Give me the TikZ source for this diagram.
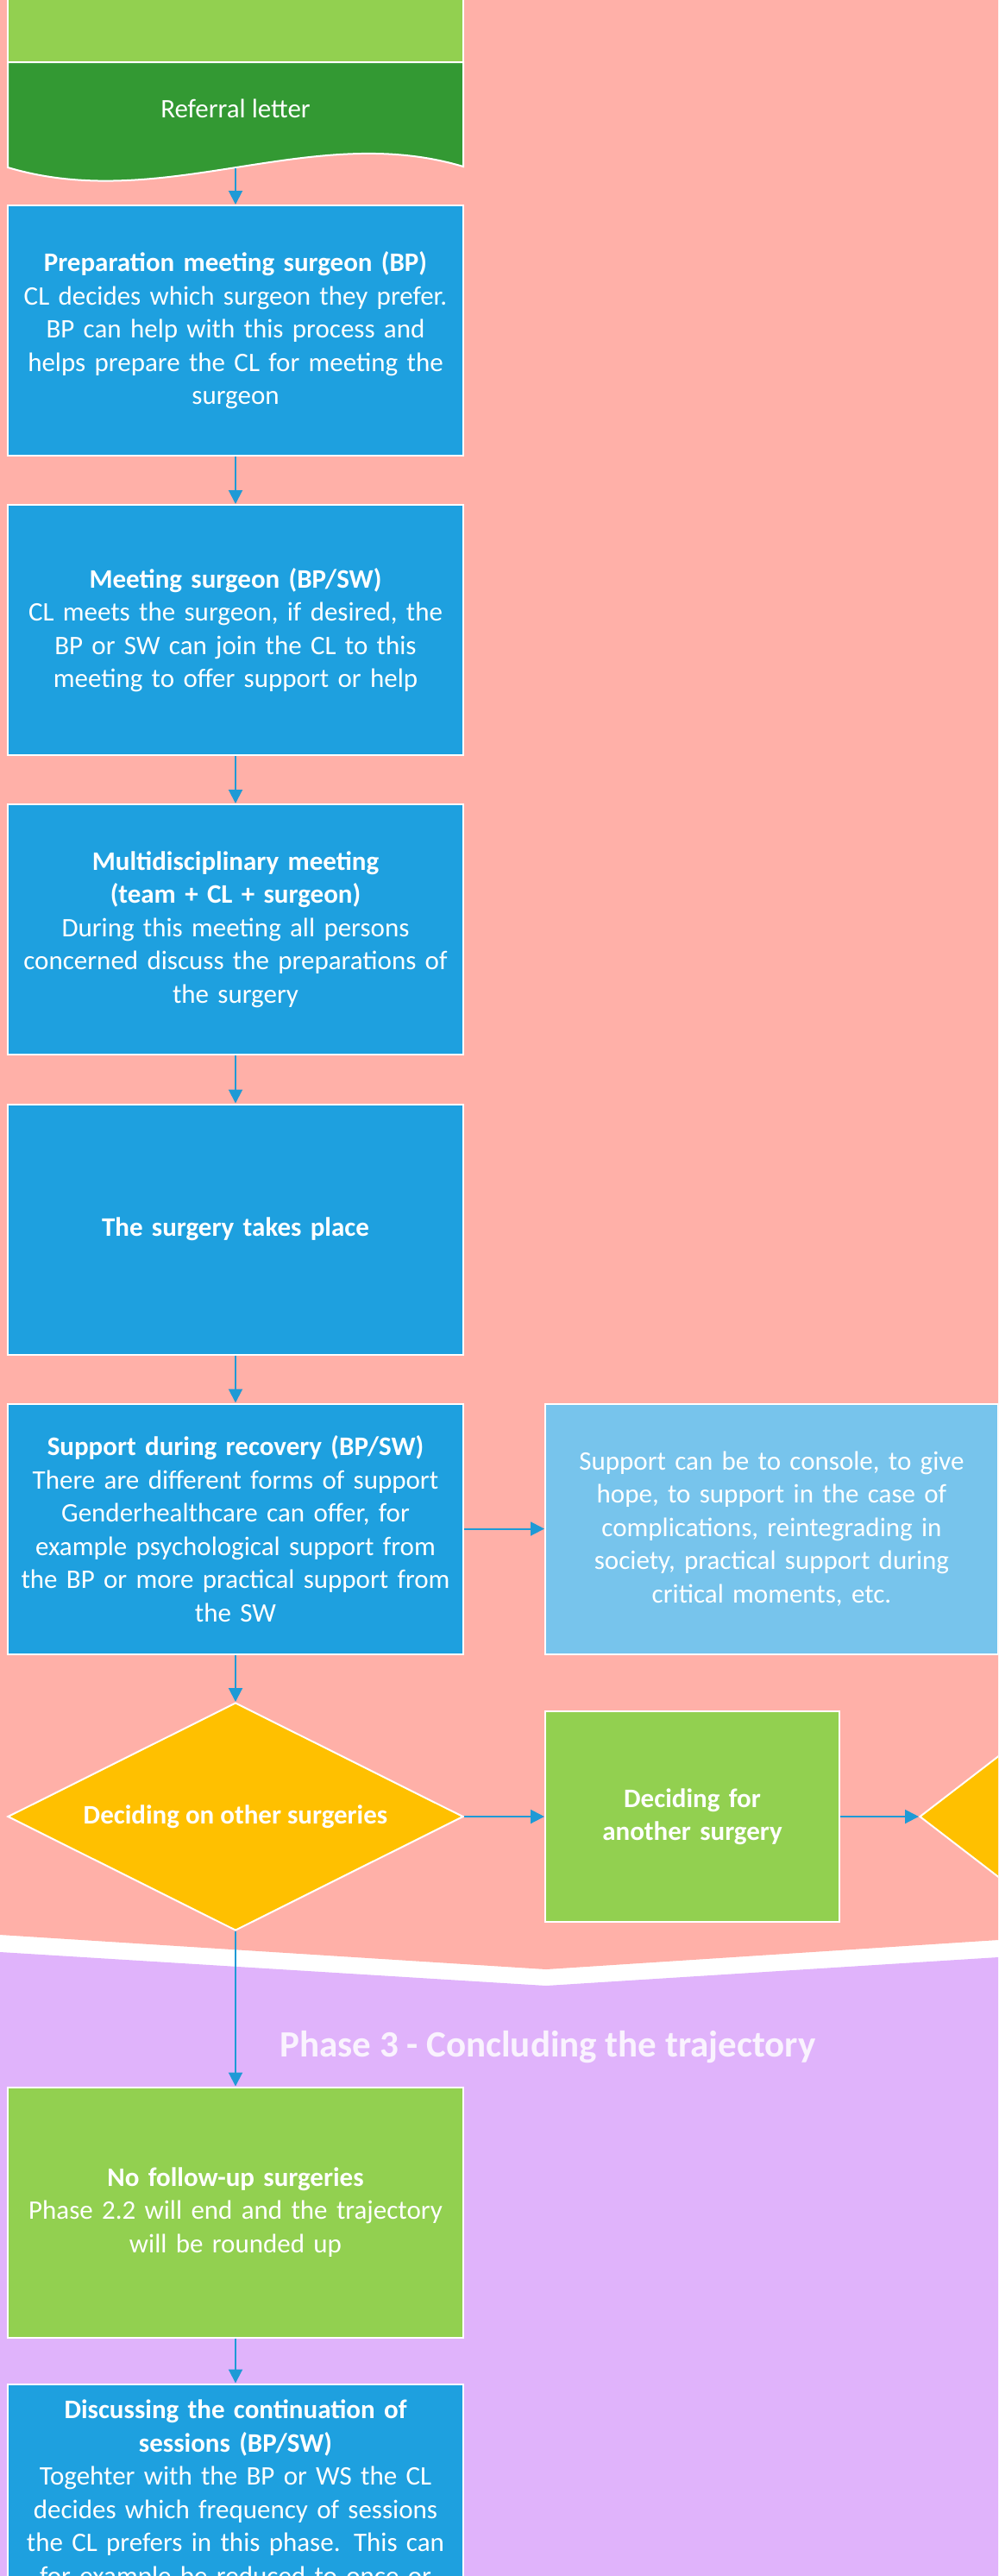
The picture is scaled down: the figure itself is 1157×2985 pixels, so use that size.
\documentclass[tikz,border=0pt]{standalone}
\usepackage{fontspec}
\setmainfont{Carlito}
\usepackage{tikz}
\usetikzlibrary{arrows.meta, shapes.geometric}
\definecolor{salmon}{HTML}{FFB0A8}
\definecolor{lilac}{HTML}{E0B3FB}
\definecolor{stepblue}{HTML}{1EA0DF}
\definecolor{paleblue}{HTML}{77C4EC}
\definecolor{leaf}{HTML}{92D050}
\definecolor{forest}{HTML}{339933}
\definecolor{amber}{HTML}{FFC000}
\definecolor{arrowblue}{HTML}{1E9AD6}
\definecolor{titletint}{HTML}{FAF3FE}

\begin{document}
\begin{tikzpicture}[x=1pt, y=-1pt,
    card/.style={rectangle, draw=white, line width=2pt, text=white, align=center,
        minimum width=528pt, minimum height=290pt, text width=516pt, inner xsep=6pt,
        font=\fontsize{31}{38.5}\selectfont},
    choice/.style={diamond, shape aspect=2, draw=white, line width=2pt, fill=amber,
        text=white, inner sep=0pt, minimum width=528pt, minimum height=264pt,
        font=\fontsize{31}{38.5}\selectfont\bfseries},
    flow/.style={draw=arrowblue, line width=2pt, -{Triangle[length=16pt, width=16pt]}}]
    \clip (0,0) rectangle (1157,2985);
    \fill[white] (0,0) rectangle (1157,2985);
    \fill[salmon] (0,0) -- (1157,0) -- (1157,2248) -- (633,2282) -- (0,2242) -- cycle;
    \fill[lilac] (0,2262) -- (633,2301) -- (1157,2268) -- (1157,2985) -- (0,2985) -- cycle;

    \node[card, fill=leaf, minimum height=120pt] (intake) at (273,12) {};
    \draw[draw=white, line width=2pt, fill=forest]
        (9,72) -- (537,72) -- (537,193) .. controls (360,140) and (190,248) .. (9,194) -- cycle;
    \node[text=white, font=\fontsize{31}{38.5}\selectfont] (letter) at (273,126) {Referral letter};
    \coordinate (letterfoot) at (273,194.5);

    \node[card, fill=stepblue] (prep) at (273,383)
        {\textbf{Preparation meeting surgeon (BP)}\\CL decides which surgeon they prefer.\\BP can help with this process and\\helps prepare the CL for meeting the\\surgeon};
    \node[card, fill=stepblue] (meet) at (273,730)
        {\textbf{Meeting surgeon (BP/SW)}\\CL meets the surgeon, if desired, the\\BP or SW can join the CL to this\\meeting to offer support or help};
    \node[card, fill=stepblue] (mdm) at (273,1077)
        {\textbf{Multidisciplinary meeting}\\\textbf{(team + CL + surgeon)}\\During this meeting all persons\\concerned discuss the preparations of\\the surgery};
    \node[card, fill=stepblue] (surgery) at (273,1424.5) {\textbf{The surgery takes place}};
    \node[card, fill=stepblue] (recovery) at (273,1771.5)
        {\textbf{Support during recovery (BP/SW)}\\There are different forms of support\\Genderhealthcare can offer, for\\example psychological support from\\the BP or more practical support from\\the SW};
    \node[card, fill=paleblue, minimum width=525pt, text width=513pt] (forms) at (894.5,1771.5)
        {Support can be to console, to give\\hope, to support in the case of\\complications, reintegrading in\\society, practical support during\\critical moments, etc.};
    \node[choice] (other) at (273,2105) {Deciding on other surgeries};
    \node[card, fill=leaf, minimum width=341pt, minimum height=244pt, text width=329pt] (another) at (802.5,2105)
        {\textbf{Deciding for}\\\textbf{another surgery}};
    \node[choice, minimum width=520pt, minimum height=400pt] (next) at (1326,2105) {};

    \node[anchor=base, text=titletint, font=\fontsize{43}{50}\selectfont\bfseries] (phase) at (635,2383)
        {Phase 3 - Concluding the trajectory};
    \node[card, fill=leaf] (nofollow) at (273,2563.5)
        {\textbf{No follow-up surgeries}\\Phase 2.2 will end and the trajectory\\will be rounded up};
    \node[card, fill=stepblue] (continue) at (273,2907.5)
        {\textbf{Discussing the continuation of}\\\textbf{sessions (BP/SW)}\\Togehter with the BP or WS the CL\\decides which frequency of sessions\\the CL prefers in this phase. This can\\for example be reduced to once or\\\mbox{}};

    \draw[flow] (letterfoot) -- (prep);
    \draw[flow] (prep) -- (meet);
    \draw[flow] (meet) -- (mdm);
    \draw[flow] (mdm) -- (surgery);
    \draw[flow] (surgery) -- (recovery);
    \draw[flow] (recovery) -- (forms);
    \draw[flow] (recovery) -- (other);
    \draw[flow] (other) -- (another);
    \draw[flow] (another) -- (next);
    \draw[flow] (other) -- (nofollow);
    \draw[flow] (nofollow) -- (continue);
\end{tikzpicture}
\end{document}
